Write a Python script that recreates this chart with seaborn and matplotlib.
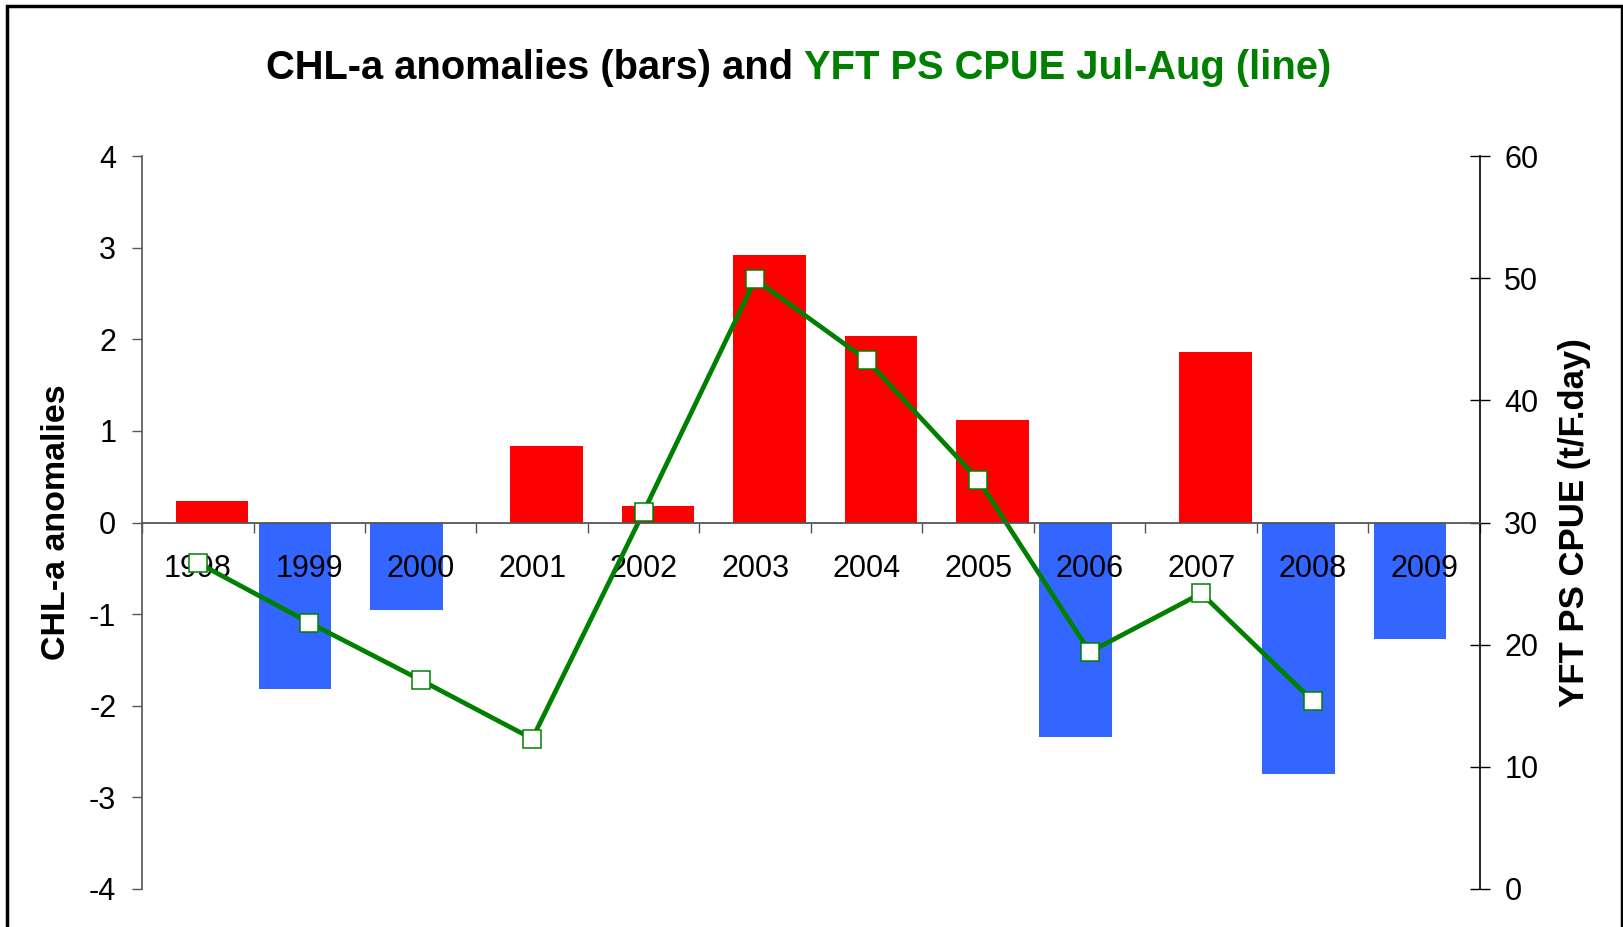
import numpy as np
import pandas as pd
import seaborn as sns
import matplotlib
matplotlib.use("Agg")
import matplotlib.pyplot as plt
from matplotlib.patches import Rectangle

# ---- data -------------------------------------------------------------
years = ["1998", "1999", "2000", "2001", "2002", "2003",
         "2004", "2005", "2006", "2007", "2008", "2009"]
chl_anomaly = [0.24, -1.82, -0.95, 0.84, 0.18, 2.92,
               2.04, 1.12, -2.34, 1.86, -2.75, -1.27]
cpue_years = ["1998", "1999", "2000", "2001", "2002", "2003",
              "2004", "2005", "2006", "2007", "2008"]
cpue = [26.7, 21.8, 17.1, 12.3, 30.9, 49.9, 43.3, 33.5, 19.4, 24.2, 15.4]
left_ticks = [-4, -3, -2, -1, 0, 1, 2, 3, 4]
right_ticks = [0, 10, 20, 30, 40, 50, 60]

RED = "#FF0000"
BLUE = "#3366FF"
GREEN = "#008000"
GREY = "#555555"

sns.set_theme(style="white")
plt.rcParams["font.family"] = ["Liberation Sans", "DejaVu Sans"]
plt.rcParams["text.color"] = "black"
plt.rcParams["axes.labelcolor"] = "black"
plt.rcParams["xtick.labelcolor"] = "black"
plt.rcParams["ytick.labelcolor"] = "black"

df = pd.DataFrame({
    "year": years,
    "chl": chl_anomaly,
    "sign": ["positive" if v >= 0 else "negative" for v in chl_anomaly],
})
line_df = pd.DataFrame({
    "pos": [years.index(y) for y in cpue_years],
    "cpue": cpue,
})

fig = plt.figure(figsize=(16.24, 9.27), dpi=100)
ax = fig.add_axes([142 / 1624, 1 - 889 / 927, 1338 / 1624, 733 / 927])

# anomaly bars: positive and negative as two side-by-side series
sns.barplot(data=df, x="year", y="chl", hue="sign",
            hue_order=["negative", "positive"],
            palette={"positive": RED, "negative": BLUE},
            dodge=True, width=0.51, saturation=1, legend=False,
            linewidth=0, ax=ax)
bar_w = 0.65
for p in ax.patches:
    c = p.get_x() + p.get_width() / 2
    p.set_width(bar_w)
    p.set_x(c - bar_w / 2)

ax.set_ylim(-4, 4)
ax.set_yticks(left_ticks)
ax.set_yticklabels([str(t) for t in left_ticks])
ax.set_xlim(-0.5, len(years) - 0.5)
ax.set_xticks(range(len(years)))
ax.set_xticklabels(years)
ax.set_xticks(np.arange(-0.5, len(years), 1.0), minor=True)

# CPUE line on the secondary axis
ax2 = ax.twinx()
sns.lineplot(data=line_df, x="pos", y="cpue", ax=ax2, color=GREEN,
             linewidth=3.4, marker="s", markersize=13.5,
             markerfacecolor="white", markeredgecolor=GREEN,
             markeredgewidth=1.1)
ax2.set_ylim(0, 60)
ax2.set_yticks(right_ticks)
ax2.set_yticklabels([str(t) for t in right_ticks])
ax2.set_xlim(-0.5, len(years) - 0.5)

# category axis runs along the zero line, drawn above the line series
ax2.xaxis.set_visible(True)
ax2.spines["bottom"].set_visible(True)
ax2.spines["bottom"].set_position(("data", 30))
ax2.spines["bottom"].set_color(GREY)
ax2.spines["bottom"].set_linewidth(1.3)
ax2.tick_params(axis="x", which="major", bottom=True, length=0, pad=23,
                labelsize=22, labelcolor="black", labelbottom=True)
ax2.tick_params(axis="x", which="minor", bottom=True, direction="out",
                length=7.2, width=1.0, color=GREY)
ax.tick_params(axis="x", which="both", bottom=False, top=False,
               labelbottom=False)

for s in ["top", "bottom", "right"]:
    ax.spines[s].set_visible(False)
ax.spines["left"].set_color(GREY)
ax.spines["left"].set_linewidth(1.2)
ax.tick_params(axis="y", which="major", left=True, direction="out",
               length=7.2, width=1.0, color=GREY, pad=11.3, labelsize=22,
               labelcolor="black")

for s in ["top", "left"]:
    ax2.spines[s].set_visible(False)
ax2.spines["right"].set_color("black")
ax2.spines["right"].set_linewidth(1.2)
ax2.tick_params(axis="y", which="major", right=True, direction="inout",
                length=15, width=1.0, color="black", pad=10, labelsize=22,
                labelcolor="black")

ax.set_xlabel("")
ax2.set_xlabel("")
ax.set_ylabel("CHL-a anomalies", fontsize=24.5, fontweight="bold",
              color="black")
ax.yaxis.set_label_coords(-0.052, 0.5)
ax2.set_ylabel("YFT PS CPUE (t/F.day)", fontsize=25, fontweight="bold",
               color="black")
ax2.yaxis.set_label_coords(1.058, 0.5)

# two-colour title
t1 = fig.text(793 / 1624, 1 - 68 / 927, "CHL-a anomalies (bars) and",
              ha="right", va="center", fontsize=28.7, fontweight="bold",
              color="black")
ax.annotate("YFT PS CPUE Jul-Aug (line)", xy=(1, 0.5), xycoords=t1,
            xytext=(11, 0), textcoords="offset pixels", ha="left",
            va="center", fontsize=28.7, fontweight="bold", color=GREEN,
            annotation_clip=False)

# outer frame
fig.patches.append(Rectangle((7 / 1624, -0.02), 1615 / 1624, 1.02 - 6 / 927,
                             transform=fig.transFigure, fill=False,
                             edgecolor="black", linewidth=2.5))

fig.savefig("out.png", dpi=100)
